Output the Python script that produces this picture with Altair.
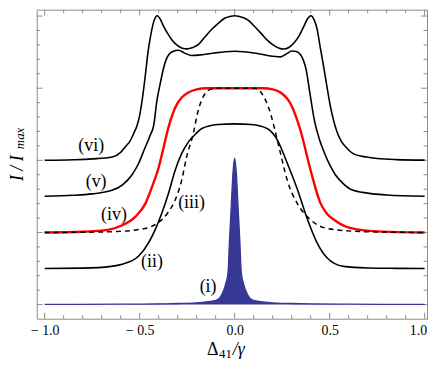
import altair as alt
import pandas as pd

# ---------------- data ----------------
# (i) narrow filled peak, baseline 0
x_i = [-1.0, -0.6, -0.4, -0.3, -0.2, -0.15, -0.105, -0.08, -0.062, -0.048, -0.035, -0.027, -0.018, -0.009, 0.0,
       0.009, 0.018, 0.027, 0.035, 0.048, 0.062, 0.08, 0.105, 0.15, 0.2, 0.3, 0.4, 0.6, 1.0]
y_i = [0.003, 0.006, 0.01, 0.015, 0.025, 0.037, 0.055, 0.09, 0.17, 0.28, 0.445, 0.90, 1.36, 1.82, 2.03,
       1.82, 1.36, 0.90, 0.445, 0.28, 0.17, 0.09, 0.055, 0.037, 0.025, 0.015, 0.01, 0.006, 0.003]

# (ii) baseline 0.5
x_ii = [-1.0, -0.8, -0.65, -0.592, -0.505, -0.453, -0.418, -0.383, -0.348, -0.313, -0.279, -0.244, -0.2, -0.175,
        -0.088, 0.0, 0.088, 0.173, 0.225, 0.277, 0.33, 0.382, 0.434, 0.486, 0.573, 0.7, 0.85, 1.0]
y_ii = [0.5, 0.505, 0.53, 0.559, 0.673, 0.857, 1.04, 1.269, 1.544, 1.864, 2.093, 2.253, 2.38, 2.437,
        2.496, 2.505, 2.496, 2.437, 2.28, 1.96, 1.60, 1.19, 0.857, 0.65, 0.53, 0.508, 0.502, 0.5]

# (iii) dashed, baseline 1.0
x_iii = [-1.0, -0.8, -0.6, -0.52, -0.45, -0.40, -0.35, -0.313, -0.279, -0.253, -0.218, -0.192, -0.157, -0.123,
         -0.09, 0.0, 0.09, 0.112, 0.156, 0.19, 0.208, 0.242, 0.277, 0.33, 0.382, 0.434, 0.521, 0.7, 1.0]
y_iii = [1.0, 1.003, 1.015, 1.035, 1.07, 1.14, 1.28, 1.45, 1.723, 2.044, 2.368, 2.688, 2.92, 2.987,
         3.0, 3.0, 3.0, 2.995, 2.871, 2.64, 2.459, 2.09, 1.723, 1.40, 1.22, 1.108, 1.04, 1.01, 1.0]

# (iv) red, baseline 1.0
x_iv = [-1.0, -0.8, -0.661, -0.592, -0.522, -0.47, -0.435, -0.40, -0.374, -0.348, -0.313, -0.279, -0.244, -0.2,
        -0.15, 0.0, 0.15, 0.2, 0.242, 0.295, 0.347, 0.399, 0.451, 0.486, 0.521, 0.607, 0.75, 1.0]
y_iv = [1.0, 1.01, 1.04, 1.10, 1.22, 1.40, 1.63, 1.90, 2.18, 2.46, 2.73, 2.87, 2.94, 2.985,
        3.0, 3.0, 3.0, 2.985, 2.94, 2.78, 2.41, 1.87, 1.41, 1.26, 1.18, 1.063, 1.015, 1.0]

# (v) baseline 1.5
x_v = [-1.0, -0.85, -0.75, -0.65, -0.59, -0.54, -0.505, -0.474, -0.447, -0.425, -0.409, -0.392, -0.374, -0.36,
       -0.345, -0.325, -0.296, -0.265, -0.227, -0.17, -0.105, -0.05, 0.0, 0.05, 0.121, 0.18, 0.242, 0.275,
       0.30, 0.325, 0.345, 0.36, 0.376, 0.395, 0.42, 0.445, 0.47, 0.50, 0.53, 0.57, 0.61, 0.7, 0.8, 1.0]
y_v = [1.503, 1.515, 1.535, 1.58, 1.66, 1.80, 1.96, 2.16, 2.33, 2.50, 2.83, 3.06, 3.28, 3.40,
       3.47, 3.51, 3.526, 3.49, 3.453, 3.465, 3.489, 3.505, 3.512, 3.505, 3.48, 3.45, 3.434, 3.48,
       3.515, 3.51, 3.47, 3.40, 3.26, 2.95, 2.55, 2.30, 2.12, 1.94, 1.80, 1.68, 1.60, 1.545, 1.52, 1.503]

# (vi) baseline 2.0
x_vi = [-1.0, -0.85, -0.75, -0.644, -0.60, -0.574, -0.55, -0.53, -0.514, -0.50, -0.487, -0.47, -0.457, -0.444,
        -0.425, -0.407, -0.39, -0.374, -0.355, -0.331, -0.305, -0.279, -0.25, -0.22, -0.192, -0.16, -0.123,
        -0.09, -0.053, -0.025, 0.0, 0.025, 0.069, 0.10, 0.138, 0.17, 0.208, 0.235, 0.26, 0.285, 0.312, 0.34,
        0.364, 0.383, 0.401, 0.418, 0.434, 0.451, 0.469, 0.486, 0.503, 0.521, 0.538, 0.56, 0.59, 0.625,
        0.694, 0.75, 0.85, 1.0]
y_vi = [2.0, 2.008, 2.02, 2.047, 2.11, 2.19, 2.27, 2.38, 2.48, 2.62, 2.83, 3.18, 3.48, 3.70,
        3.93, 4.005, 3.95, 3.856, 3.77, 3.673, 3.60, 3.558, 3.545, 3.565, 3.604, 3.70, 3.81,
        3.89, 3.97, 3.995, 4.005, 3.995, 3.948, 3.87, 3.764, 3.67, 3.591, 3.555, 3.544, 3.565, 3.626, 3.73,
        3.856, 3.96, 4.005, 3.95, 3.82, 3.56, 3.29, 3.02, 2.76, 2.55, 2.40, 2.27, 2.17, 2.09,
        2.045, 2.025, 2.01, 2.003]

# curve labels
lab_text = ["(i)", "(ii)", "(iii)", "(iv)", "(v)", "(vi)"]
lab_x = [-0.140, -0.435, -0.227, -0.635, -0.729, -0.755]
lab_y = [0.25, 0.593, 1.407, 1.247, 1.70, 2.194]

# ticks
x_major = [-1.0, -0.5, 0.0, 0.5, 1.0]
x_minor = [-0.9, -0.8, -0.7, -0.6, -0.4, -0.3, -0.2, -0.1, 0.1, 0.2, 0.3, 0.4, 0.6, 0.7, 0.8, 0.9]
y_major = [0, 1, 2, 3, 4]
y_minor = [0.2, 0.4, 0.6, 0.8, 1.2, 1.4, 1.6, 1.8, 2.2, 2.4, 2.6, 2.8, 3.2, 3.4, 3.6, 3.8]

# ---------------- chart ----------------
W, H = 394, 312
FRAME = "#8c8c8c"
SERIF = "Liberation Serif"
BLUE = "#373796"

xs = alt.Scale(domain=[-1.0417, 1.0125], nice=False, zero=False)
ys = alt.Scale(domain=[-0.196, 4.089], nice=False, zero=False)

xaxis = alt.Axis(values=x_major,
                 labelExpr="datum.value < 0 ? '\u2212 ' + format(-datum.value, '.1f') : format(datum.value, '.1f')",
                 ticks=False, tickSize=0, domain=False, grid=False, title=None,
                 labelFont=SERIF, labelFontSize=14, labelColor="black", labelPadding=5,
                 labelFlush=5, labelFlushOffset=2)


def X(field):
    return alt.X(field, type="quantitative", scale=xs, axis=xaxis)


def Y(field):
    return alt.Y(field, type="quantitative", scale=ys, axis=None)


layers = []

# frame ticks
for vals, ln in [(x_major, 6), (x_minor, 3.5)]:
    d = pd.DataFrame({"v": vals})
    layers.append(alt.Chart(d).mark_rule(color=FRAME, strokeWidth=1).encode(
        x=X("v"), y=alt.value(H), y2=alt.value(H - ln)))
    layers.append(alt.Chart(d).mark_rule(color=FRAME, strokeWidth=1).encode(
        x=X("v"), y=alt.value(0), y2=alt.value(ln)))
for vals, ln in [(y_major, 6), (y_minor, 3.5)]:
    d = pd.DataFrame({"v": vals})
    layers.append(alt.Chart(d).mark_rule(color=FRAME, strokeWidth=1).encode(
        y=Y("v"), x=alt.value(0), x2=alt.value(ln)))
    layers.append(alt.Chart(d).mark_rule(color=FRAME, strokeWidth=1).encode(
        y=Y("v"), x=alt.value(W), x2=alt.value(W - ln)))

# (i) filled peak
df_i = pd.DataFrame({"x": x_i, "y": y_i})
layers.append(alt.Chart(df_i).mark_area(interpolate="monotone", color=BLUE, opacity=1).encode(
    x=X("x"), y=Y("y"), y2=alt.datum(0)))
layers.append(alt.Chart(df_i).mark_line(interpolate="monotone", color=BLUE, strokeWidth=1.3).encode(
    x=X("x"), y=Y("y")))


def curve(xv, yv, **kw):
    d = pd.DataFrame({"x": xv, "y": yv})
    return alt.Chart(d).mark_line(interpolate="monotone", **kw).encode(x=X("x"), y=Y("y"))


layers.append(curve(x_ii, y_ii, color="black", strokeWidth=1.6))
layers.append(curve(x_iv, y_iv, color="#ff0000", strokeWidth=2.4))
layers.append(curve(x_iii, y_iii, color="black", strokeWidth=1.5, strokeDash=[5, 4]))
layers.append(curve(x_v, y_v, color="black", strokeWidth=1.6))
layers.append(curve(x_vi, y_vi, color="black", strokeWidth=1.6))

# curve labels
df_lab = pd.DataFrame({"x": lab_x, "y": lab_y, "t": lab_text})
layers.append(alt.Chart(df_lab).mark_text(font=SERIF, fontSize=18, color="black",
                                          align="center", baseline="middle").encode(
    x=X("x"), y=Y("y"), text="t:N"))

# axis titles (as text pieces)
one = pd.DataFrame({"t": ["Δ", "41", "/γ", "I / I", "max"]})


def piece(i, px, py, size, italic=False, angle=0, align="left", baseline="alphabetic"):
    kw = dict(font=SERIF, fontSize=size, color="black", align=align, baseline=baseline)
    if italic:
        kw["fontStyle"] = "italic"
    if angle:
        kw["angle"] = angle
    return alt.Chart(one.iloc[[i]]).mark_text(**kw).encode(
        x=alt.value(px), y=alt.value(py), text="t:N")


layers.append(piece(0, 172, 349, 18))
layers.append(piece(1, 184, 352, 13))
layers.append(piece(2, 198, 349, 18, italic=True))
layers.append(piece(3, -18.5, 160, 18, italic=True, angle=270, align="center", baseline="middle"))
layers.append(piece(4, -17, 130, 13, italic=True, angle=270, align="center", baseline="middle"))

chart = alt.layer(*layers).properties(
    width=W, height=H,
    padding={"left": 29, "top": 0, "right": 2, "bottom": 40},
    autosize=alt.AutoSizeParams(type="none"),
    background="white",
).configure_view(stroke=FRAME, strokeWidth=1)

chart.save("out.html", embed_options={"renderer": "svg", "actions": False})
